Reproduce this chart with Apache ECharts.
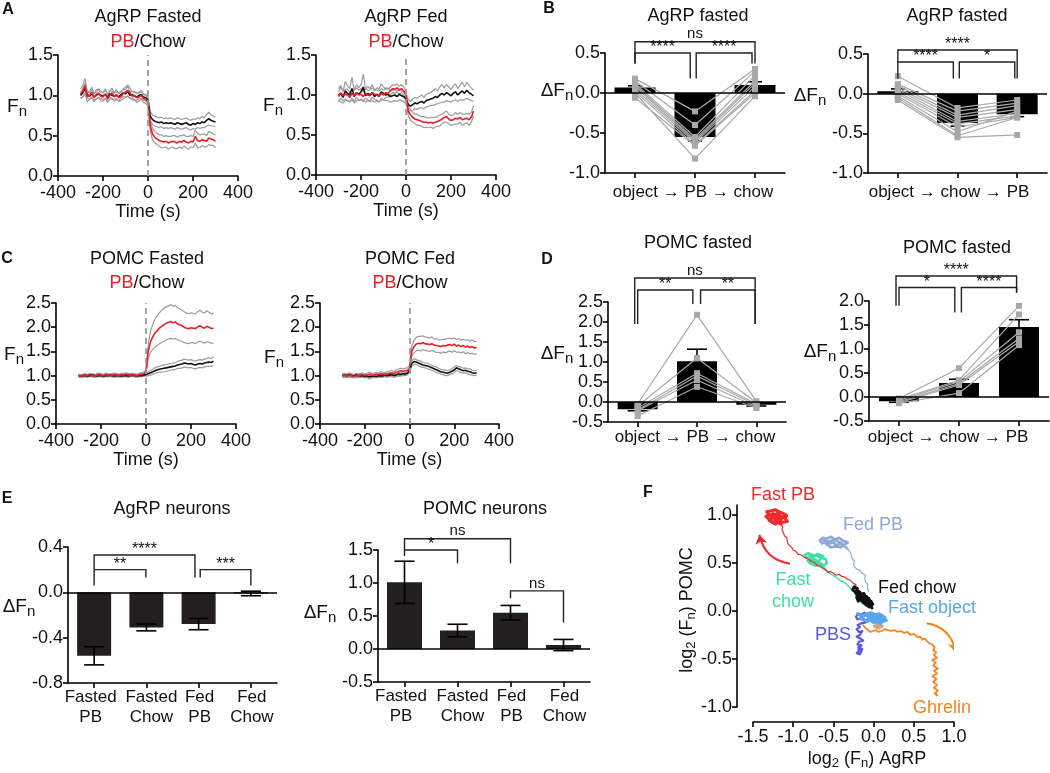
<!DOCTYPE html>
<html><head><meta charset="utf-8">
<script src="https://cdn.jsdelivr.net/npm/echarts@6/dist/echarts.min.js"></script>
<style>html,body{margin:0;padding:0;background:#fff}#c{width:1050px;height:773px}</style>
</head><body><div id="c"></div>
<script>
// ---------------- DATA ----------------
const timeSec = [-300,-290,-280,-270,-260,-250,-240,-230,-220,-210,-200,-190,-180,-170,-160,-150,-140,-130,-120,-110,-100,-90,-80,-70,-60,-50,-40,-30,-20,-10,0,10,20,30,40,50,60,70,80,90,100,110,120,130,140,150,160,170,180,190,200,210,220,230,240,250,260,270,280,290,300];
const timeTicks = [-400,-200,0,200,400];

// A: AgRP fasted
const agrpFastedPB = [1.02,1.05,1.12,0.98,1.00,1.04,0.97,1.01,1.03,0.99,0.98,1.02,0.96,1.00,1.03,0.98,1.01,0.97,0.99,1.02,1.04,1.06,1.03,0.99,1.00,0.97,0.98,1.00,0.96,0.95,0.92,0.62,0.52,0.48,0.46,0.44,0.43,0.42,0.43,0.41,0.42,0.43,0.42,0.41,0.43,0.42,0.44,0.42,0.41,0.43,0.42,0.49,0.44,0.43,0.45,0.44,0.43,0.47,0.46,0.45,0.43];
const agrpFastedPBsem = [0.06,0.07,0.09,0.06,0.05,0.06,0.05,0.06,0.05,0.06,0.05,0.06,0.05,0.05,0.06,0.05,0.06,0.05,0.05,0.06,0.06,0.07,0.06,0.05,0.05,0.06,0.05,0.05,0.05,0.05,0.05,0.06,0.07,0.07,0.07,0.07,0.08,0.07,0.07,0.08,0.07,0.07,0.08,0.07,0.07,0.08,0.07,0.07,0.08,0.07,0.07,0.08,0.09,0.08,0.07,0.08,0.07,0.08,0.08,0.07,0.08];
const agrpFastedChow = [1.00,1.03,1.08,1.01,0.99,1.02,0.98,1.00,1.02,1.00,0.99,1.01,0.98,1.02,1.00,0.99,1.00,0.98,1.01,1.03,1.02,1.05,1.00,1.01,0.99,0.98,1.00,1.01,0.98,0.97,0.94,0.74,0.70,0.68,0.67,0.66,0.67,0.65,0.66,0.65,0.66,0.65,0.64,0.66,0.65,0.64,0.65,0.66,0.64,0.63,0.65,0.64,0.66,0.65,0.67,0.66,0.69,0.71,0.69,0.68,0.67];
const agrpFastedChowSem = [0.04,0.05,0.07,0.04,0.04,0.05,0.04,0.04,0.05,0.04,0.04,0.05,0.04,0.04,0.05,0.04,0.04,0.05,0.04,0.04,0.05,0.06,0.04,0.04,0.05,0.04,0.04,0.05,0.04,0.04,0.04,0.05,0.06,0.06,0.06,0.06,0.06,0.06,0.06,0.06,0.06,0.06,0.06,0.06,0.06,0.06,0.06,0.06,0.06,0.06,0.06,0.06,0.06,0.06,0.07,0.06,0.07,0.08,0.07,0.06,0.06];
// A: AgRP fed
const agrpFedPB = [0.98,1.03,0.99,1.01,1.00,0.97,1.02,0.99,1.03,1.00,1.01,0.98,1.02,1.00,0.99,1.03,1.01,1.00,0.98,1.02,1.00,1.03,1.02,1.05,1.08,1.07,1.09,1.06,1.08,1.05,1.00,0.80,0.75,0.72,0.70,0.69,0.68,0.67,0.66,0.66,0.65,0.66,0.65,0.66,0.67,0.68,0.70,0.72,0.73,0.70,0.68,0.69,0.71,0.70,0.72,0.69,0.70,0.71,0.69,0.72,0.80];
const agrpFedPBsem = [0.06,0.07,0.06,0.06,0.07,0.06,0.06,0.07,0.06,0.06,0.07,0.06,0.06,0.06,0.07,0.06,0.06,0.06,0.07,0.06,0.06,0.06,0.05,0.05,0.05,0.05,0.05,0.05,0.05,0.05,0.05,0.06,0.07,0.06,0.06,0.07,0.06,0.06,0.07,0.06,0.06,0.06,0.07,0.06,0.06,0.07,0.06,0.06,0.07,0.06,0.06,0.06,0.07,0.06,0.06,0.07,0.06,0.06,0.07,0.06,0.06];
const agrpFedChow = [1.00,1.02,0.97,1.05,1.02,1.00,1.08,0.98,1.03,1.01,1.04,1.10,0.99,1.02,1.00,1.03,0.98,1.01,0.99,1.04,1.02,1.00,1.01,0.98,0.99,1.00,0.98,1.01,0.99,0.98,0.95,0.88,0.86,0.88,0.90,0.89,0.91,0.92,0.90,0.93,0.94,0.95,0.96,0.98,0.97,1.00,1.02,1.00,1.03,1.01,0.99,1.02,1.04,1.00,1.03,1.05,1.02,1.06,1.03,1.01,0.99];
const agrpFedChowSem = [0.08,0.10,0.07,0.12,0.09,0.08,0.14,0.08,0.10,0.08,0.09,0.16,0.08,0.09,0.08,0.10,0.07,0.08,0.08,0.10,0.08,0.07,0.08,0.07,0.07,0.07,0.06,0.07,0.06,0.06,0.06,0.06,0.06,0.07,0.07,0.07,0.07,0.08,0.07,0.08,0.08,0.08,0.09,0.10,0.08,0.10,0.11,0.09,0.10,0.09,0.08,0.09,0.10,0.08,0.09,0.11,0.08,0.10,0.09,0.08,0.07];
// C: POMC fasted
const pomcFastedPB = [1.00,0.99,1.00,1.01,1.00,1.02,1.00,0.99,1.01,1.02,1.01,1.00,1.02,1.01,1.00,1.01,1.02,1.01,1.00,1.02,1.01,1.03,1.02,1.01,1.02,1.01,1.00,1.02,1.03,1.04,1.08,1.50,1.70,1.80,1.88,1.93,1.98,2.02,2.05,2.08,2.10,2.12,2.09,2.11,2.07,2.05,2.03,2.00,1.98,1.97,1.99,1.98,1.97,2.01,2.03,2.00,1.98,2.02,2.00,1.97,1.98];
const pomcFastedPBsem = [0.03,0.02,0.03,0.03,0.02,0.03,0.03,0.02,0.03,0.03,0.03,0.02,0.03,0.03,0.02,0.03,0.03,0.03,0.02,0.03,0.03,0.03,0.02,0.03,0.03,0.02,0.03,0.03,0.03,0.04,0.05,0.14,0.22,0.26,0.29,0.31,0.32,0.33,0.34,0.34,0.34,0.35,0.34,0.34,0.33,0.33,0.32,0.32,0.31,0.31,0.31,0.30,0.31,0.31,0.32,0.31,0.31,0.32,0.31,0.30,0.31];
const pomcFastedChow = [1.00,0.99,1.00,1.00,0.99,1.00,1.01,1.00,0.99,1.00,1.00,0.99,1.00,1.00,1.01,1.00,0.99,1.00,1.00,0.99,1.00,1.00,0.99,1.00,1.01,1.00,0.99,1.00,1.00,1.01,1.02,1.04,1.06,1.08,1.10,1.12,1.13,1.14,1.15,1.16,1.17,1.18,1.19,1.20,1.22,1.23,1.24,1.26,1.25,1.24,1.25,1.23,1.22,1.24,1.25,1.24,1.26,1.27,1.28,1.27,1.30];
const pomcFastedChowSem = [0.02,0.03,0.02,0.02,0.03,0.02,0.02,0.03,0.02,0.02,0.02,0.03,0.02,0.02,0.02,0.03,0.02,0.02,0.03,0.02,0.02,0.02,0.03,0.02,0.02,0.03,0.02,0.02,0.02,0.02,0.03,0.04,0.05,0.05,0.06,0.06,0.06,0.07,0.07,0.07,0.07,0.07,0.07,0.07,0.07,0.08,0.08,0.08,0.08,0.08,0.08,0.08,0.08,0.08,0.08,0.08,0.08,0.08,0.09,0.08,0.09];
// C: POMC fed
const pomcFedPB = [1.00,1.01,0.99,1.00,1.01,0.98,0.99,1.00,1.01,1.02,1.00,1.01,1.03,1.02,1.00,1.03,1.02,1.04,1.03,1.02,1.04,1.05,1.06,1.04,1.07,1.08,1.10,1.09,1.10,1.11,1.15,1.50,1.60,1.65,1.67,1.66,1.68,1.66,1.65,1.64,1.66,1.63,1.62,1.61,1.60,1.62,1.61,1.63,1.64,1.62,1.65,1.61,1.63,1.60,1.62,1.59,1.61,1.58,1.60,1.57,1.58];
const pomcFedPBsem = [0.03,0.04,0.03,0.03,0.04,0.03,0.03,0.04,0.03,0.04,0.03,0.04,0.04,0.03,0.04,0.04,0.03,0.04,0.04,0.04,0.04,0.04,0.05,0.04,0.05,0.05,0.05,0.05,0.05,0.05,0.06,0.10,0.13,0.14,0.14,0.15,0.14,0.14,0.14,0.14,0.14,0.13,0.14,0.13,0.14,0.13,0.14,0.14,0.13,0.14,0.13,0.13,0.14,0.13,0.13,0.14,0.13,0.13,0.14,0.13,0.13];
const pomcFedChow = [1.00,1.01,1.00,1.02,1.00,0.99,1.01,1.00,0.99,1.00,0.98,0.99,0.97,0.98,0.99,0.98,0.99,1.00,0.99,1.01,1.00,1.01,1.02,1.00,1.01,1.03,1.02,1.04,1.03,1.05,1.10,1.25,1.29,1.28,1.26,1.24,1.22,1.21,1.20,1.18,1.16,1.14,1.12,1.10,1.08,1.07,1.06,1.05,1.07,1.09,1.12,1.16,1.14,1.12,1.10,1.11,1.09,1.08,1.06,1.05,1.06];
const pomcFedChowSem = [0.03,0.03,0.03,0.04,0.03,0.03,0.03,0.03,0.03,0.03,0.03,0.03,0.04,0.03,0.03,0.03,0.03,0.03,0.03,0.03,0.03,0.03,0.04,0.03,0.03,0.04,0.03,0.04,0.03,0.04,0.04,0.05,0.06,0.05,0.05,0.06,0.05,0.05,0.06,0.05,0.05,0.05,0.06,0.05,0.05,0.05,0.06,0.05,0.05,0.05,0.06,0.05,0.05,0.06,0.05,0.05,0.05,0.06,0.05,0.05,0.05];

// B: AgRP fasted, object -> PB -> chow
const bOrderA = ['object','PB','chow'];
const bMeanA = [0.07,-0.55,0.10];
const bSemA = [0.02,0.05,0.04];
const bSubjA = [[0.18,-0.23,0.30],[0.15,-0.40,0.27],[0.12,-0.55,0.22],[0.10,-0.58,0.15],[0.08,-0.60,0.12],[0.05,-0.62,0.08],[0.02,-0.65,0.03],[-0.06,-0.66,0.00],[0.00,-0.82,-0.04]];
const bBracketA = [[0,2,0.64,0.37,0.37],[0,0.92,0.50,0.37,0.18],[1.02,1.95,0.50,0.18,0.37]];
const bBracketTextA = ['ns','****','****'];
// B: AgRP fasted, object -> chow -> PB
const bOrderB = ['object','chow','PB'];
const bMeanB = [0.03,-0.37,-0.26];
const bSemB = [0.03,0.04,0.03];
const bSubjB = [[0.22,-0.18,-0.08],[0.12,-0.22,-0.12],[0.10,-0.27,-0.15],[0.07,-0.30,-0.20],[0.05,-0.35,-0.25],[0.02,-0.38,-0.28],[0.00,-0.42,-0.30],[-0.03,-0.48,-0.22],[-0.05,-0.53,-0.30],[-0.08,-0.55,-0.52]];
const bBracketB = [[0,2,0.55,0.40,0.19],[0,0.93,0.40,0.19,0.19],[1.03,1.96,0.40,0.19,0.19]];
const bBracketTextB = ['****','****','*'];
// D: POMC fasted, object -> PB -> chow
const dOrderA = ['object','PB','chow'];
const dMeanA = [-0.18,1.02,-0.07];
const dSemA = [0.04,0.30,0.03];
const dSubjA = [[-0.05,2.18,0.02],[-0.10,1.10,-0.02],[-0.15,0.72,-0.05],[-0.20,0.65,-0.08],[-0.22,0.55,-0.12],[-0.35,0.38,-0.15]];
const dBracketA = [[-0.05,1.98,3.1,1.95,1.95],[0,0.93,2.8,1.95,2.45],[1.06,1.98,2.8,2.45,1.95]];
const dBracketTextA = ['ns','**','**'];
// D: POMC fasted, object -> chow -> PB
const dOrderB = ['object','chow','PB'];
const dMeanB = [-0.09,0.29,1.46];
const dSemB = [0.02,0.08,0.15];
const dSubjB = [[-0.03,0.60,1.90],[-0.05,0.35,1.72],[-0.07,0.32,1.35],[-0.10,0.28,1.22],[-0.12,0.25,1.15],[-0.13,0.08,1.08]];
const dBracketB = [[-0.05,1.96,2.52,1.9,2.17],[0,0.93,2.28,1.9,1.76],[1.04,1.96,2.28,1.76,2.17]];
const dBracketTextB = ['****','*','****'];

// E: summary
const eCats = ['Fasted\nPB','Fasted\nChow','Fed\nPB','Fed\nChow'];
const eAgrpMean = [-0.56,-0.31,-0.28,-0.01];
const eAgrpSem = [0.08,0.03,0.05,0.02];
const eAgrpBracket = [[0,1.93,0.33,0.06,0.13],[0,0.99,0.20,0.20,0.13],[2.03,3,0.20,0.13,0.06]];
const eAgrpBracketText = ['****','**','***'];
const ePomcMean = [1.01,0.28,0.55,0.06];
const ePomcSem = [0.32,0.095,0.11,0.085];
const ePomcBracket = [[0,2,1.67,1.5,1.3],[0,1,1.5,1.41,1.3],[2,3,0.88,0.77,0.4]];
const ePomcBracketText = ['ns','*','ns'];

// F: state-space trajectories (log2 Fn AgRP, log2 Fn POMC)
const fastPBPath = [[-0.19,0.13],[-0.2,0.16],[-0.22,0.18],[-0.21,0.21],[-0.23,0.24],[-0.22,0.27],[-0.26,0.29],[-0.29,0.32],[-0.33,0.33],[-0.36,0.35],[-0.4,0.36],[-0.43,0.38],[-0.47,0.37],[-0.5,0.39],[-0.54,0.41],[-0.57,0.4],[-0.6,0.43],[-0.63,0.44],[-0.66,0.46],[-0.7,0.47],[-0.73,0.5],[-0.77,0.51],[-0.8,0.53],[-0.84,0.55],[-0.87,0.56],[-0.9,0.58],[-0.94,0.59],[-0.97,0.62],[-1.0,0.63],[-1.02,0.66],[-1.05,0.68],[-1.07,0.71],[-1.09,0.73],[-1.08,0.76],[-1.11,0.78],[-1.12,0.81],[-1.14,0.84],[-1.13,0.87],[-1.15,0.9]];
const fastPBBlob = [[-1.15,0.9],[-1.2,0.92],[-1.26,0.93],[-1.31,0.96],[-1.34,0.98],[-1.3,1.0],[-1.33,1.03],[-1.27,1.04],[-1.22,1.05],[-1.17,1.03],[-1.12,1.01],[-1.08,0.99],[-1.1,0.96],[-1.07,0.93],[-1.12,0.92],[-1.18,0.94],[-1.24,0.96],[-1.29,0.99],[-1.25,1.01],[-1.2,0.99],[-1.15,0.97],[-1.19,1.02],[-1.24,0.98],[-1.3,0.94],[-1.22,0.9],[-1.16,0.95],[-1.11,0.98],[-1.2,0.97]];
const fedPBPath = [[-0.06,0.2],[-0.08,0.24],[-0.07,0.27],[-0.1,0.3],[-0.11,0.34],[-0.1,0.37],[-0.14,0.39],[-0.17,0.42],[-0.2,0.43],[-0.23,0.45],[-0.25,0.48],[-0.24,0.52],[-0.27,0.55],[-0.28,0.59],[-0.3,0.62],[-0.33,0.65]];
const fedPBBlob = [[-0.33,0.65],[-0.37,0.68],[-0.42,0.7],[-0.46,0.68],[-0.5,0.71],[-0.55,0.7],[-0.6,0.72],[-0.64,0.7],[-0.67,0.73],[-0.63,0.76],[-0.58,0.75],[-0.53,0.77],[-0.48,0.74],[-0.43,0.76],[-0.38,0.73],[-0.32,0.71],[-0.36,0.69],[-0.41,0.66],[-0.47,0.67],[-0.53,0.66],[-0.58,0.69],[-0.62,0.73],[-0.55,0.72],[-0.5,0.74],[-0.44,0.72],[-0.39,0.7]];
const fastChowPath = [[-0.14,0.07],[-0.17,0.1],[-0.19,0.13],[-0.22,0.15],[-0.24,0.19],[-0.27,0.21],[-0.3,0.25],[-0.33,0.27],[-0.37,0.3],[-0.41,0.31],[-0.45,0.34],[-0.49,0.36],[-0.53,0.38],[-0.57,0.41],[-0.6,0.43]];
const fastChowBlob = [[-0.6,0.43],[-0.64,0.46],[-0.69,0.48],[-0.73,0.5],[-0.78,0.53],[-0.83,0.55],[-0.86,0.58],[-0.81,0.6],[-0.76,0.58],[-0.7,0.57],[-0.65,0.55],[-0.6,0.54],[-0.58,0.5],[-0.62,0.47],[-0.67,0.5],[-0.72,0.53],[-0.77,0.55],[-0.82,0.52],[-0.78,0.49],[-0.72,0.47],[-0.68,0.52],[-0.63,0.57],[-0.7,0.59],[-0.75,0.56],[-0.8,0.57]];
const fedChowBlob = [[-0.02,0.03],[-0.05,0.07],[-0.03,0.1],[-0.08,0.09],[-0.11,0.12],[-0.09,0.15],[-0.14,0.14],[-0.17,0.17],[-0.2,0.16],[-0.23,0.2],[-0.26,0.22],[-0.24,0.25],[-0.2,0.23],[-0.22,0.19],[-0.18,0.2],[-0.15,0.17],[-0.12,0.18],[-0.1,0.14],[-0.06,0.13],[-0.04,0.09],[-0.01,0.07],[-0.05,0.04],[-0.09,0.06],[-0.13,0.09],[-0.16,0.12],[-0.19,0.1],[-0.21,0.14],[-0.17,0.13],[-0.13,0.11],[-0.08,0.11],[-0.12,0.16],[-0.18,0.14],[-0.06,0.05],[-0.02,0.08]];
const fastObjectBlob = [[-0.2,-0.03],[-0.16,-0.05],[-0.11,-0.04],[-0.07,-0.06],[-0.03,-0.04],[0.01,-0.06],[0.05,-0.05],[0.09,-0.07],[0.13,-0.08],[0.16,-0.1],[0.12,-0.11],[0.08,-0.13],[0.04,-0.11],[0.0,-0.12],[-0.04,-0.1],[-0.08,-0.11],[-0.12,-0.09],[-0.17,-0.08],[-0.13,-0.06],[-0.08,-0.03],[-0.03,-0.02],[0.02,-0.04],[0.07,-0.03],[0.11,-0.05],[0.14,-0.07],[0.09,-0.09],[0.04,-0.08],[-0.01,-0.09],[0.05,-0.1],[0.1,-0.1],[0.02,-0.07],[-0.05,-0.08]];
const pbsTrace = [[-0.11,-0.02],[-0.15,-0.04],[-0.19,-0.03],[-0.22,-0.06],[-0.2,-0.09],[-0.16,-0.08],[-0.12,-0.1],[-0.08,-0.09],[-0.1,-0.12],[-0.15,-0.13],[-0.2,-0.15],[-0.17,-0.17],[-0.21,-0.19],[-0.18,-0.22],[-0.14,-0.21],[-0.17,-0.25],[-0.21,-0.27],[-0.16,-0.29],[-0.13,-0.31],[-0.18,-0.32],[-0.2,-0.35],[-0.15,-0.36],[-0.19,-0.38],[-0.14,-0.4],[-0.18,-0.42],[-0.21,-0.44],[-0.17,-0.45],[-0.15,-0.42],[-0.19,-0.4]];
const ghrelinTrace = [[-0.13,-0.15],[-0.1,-0.18],[-0.07,-0.2],[-0.04,-0.22],[-0.01,-0.21],[0.03,-0.2],[0.06,-0.22],[0.1,-0.21],[0.14,-0.19],[0.18,-0.2],[0.22,-0.21],[0.26,-0.2],[0.3,-0.22],[0.34,-0.21],[0.38,-0.23],[0.42,-0.22],[0.46,-0.25],[0.5,-0.24],[0.54,-0.27],[0.58,-0.27],[0.61,-0.3],[0.64,-0.29],[0.67,-0.32],[0.7,-0.34],[0.73,-0.35],[0.76,-0.38],[0.74,-0.41],[0.78,-0.43],[0.75,-0.46],[0.79,-0.49],[0.73,-0.51],[0.77,-0.54],[0.74,-0.57],[0.8,-0.6],[0.75,-0.62],[0.79,-0.65],[0.73,-0.68],[0.78,-0.71],[0.74,-0.74],[0.79,-0.77],[0.75,-0.8],[0.8,-0.83],[0.76,-0.86],[0.79,-0.88],[0.77,-0.85]];
const tanTrace = [[0.0,-0.12],[0.06,-0.14],[0.11,-0.16],[0.06,-0.18],[0.01,-0.16],[0.07,-0.15]];
const redArrow = [[-1.04,0.49],[-1.42,0.79]];
const orangeArrow = [[0.66,-0.13],[1.02,-0.43]];
const fTicks = [-1.0,-0.5,0.0,0.5,1.0];

// ---------------- BUILD ----------------
const FONT = "'Liberation Sans', Arial, Helvetica, sans-serif";
const RED = '#ee1d24', GRAY = '#9c9c9c', SUBJ = '#a8a8a8', INK = '#111';
const LS = 18; // label size
const grids = [], xAxes = [], yAxes = [], series = [], graphics = [];

function axLine(){ return {show:true, onZero:false, lineStyle:{color:'#000', width:1.6}}; }
function axTick(extra){ return Object.assign({show:true, length:5, lineStyle:{color:'#000', width:1.6}}, extra||{}); }
function axLab(extra){ return Object.assign({show:true, color:INK, fontSize:LS, fontFamily:FONT, margin:5}, extra||{}); }
function addGrid(l,t,w,h){ grids.push({left:l, top:t, width:w, height:h}); return grids.length-1; }
const fmt1 = v => v.toFixed(1);

function txt(x, y, text, o){
  o = o || {};
  const st = {text:text, fill:o.color||INK, fontSize:o.size||LS, fontFamily:FONT, fontWeight:o.bold?'bold':'normal',
    textAlign:o.align||'center', textVerticalAlign:'middle', align:o.align||'center', verticalAlign:'middle', x:0, y:0};
  if (o.rich) st.rich = o.rich;
  graphics.push({type:'text', x:x, y:y, rotation:o.rot||0, silent:true, style:st, z:10});
}
const tok = (size, color, padTop) => ({fontSize:size, fontFamily:FONT, fill:color||INK, color:color||INK, padding:[padTop||0,0,0,0]});
const subRich = {a:tok(19), s:tok(15, INK, 10)};

function timePanel(box, yMax, red, redSem, blk, blkSem){
  const gi = addGrid(box[0],box[1],box[2],box[3]);
  xAxes.push({gridIndex:gi, type:'value', min:timeTicks[0], max:timeTicks[timeTicks.length-1], interval:timeTicks[1]-timeTicks[0],
    axisLine:axLine(), axisTick:axTick(), axisLabel:axLab({margin:8}), splitLine:{show:false},
    name:'Time (s)', nameLocation:'middle', nameGap:25, nameTextStyle:{fontSize:LS, fontFamily:FONT, color:INK}});
  yAxes.push({gridIndex:gi, type:'value', min:0, max:yMax, interval:0.5, axisLine:axLine(), axisTick:axTick(),
    axisLabel:axLab({formatter:fmt1}), splitLine:{show:false}});
  const xi = xAxes.length-1, yi = yAxes.length-1;
  const pts = a => timeSec.map((t,i)=>[t, a[i]]);
  const off = (m,s,k) => timeSec.map((t,i)=>[t, +(m[i]+k*s[i]).toFixed(3)]);
  const base = {type:'line', xAxisIndex:xi, yAxisIndex:yi, showSymbol:false, symbol:'none', silent:true, clip:false};
  series.push(Object.assign({}, base, {data:off(blk,blkSem,1), lineStyle:{color:GRAY, width:1.2}, z:2,
    markLine:{silent:true, symbol:'none', label:{show:false}, lineStyle:{color:'#9a9a9a', type:[6,4], width:1.8}, data:[{xAxis:0}]}}));
  series.push(Object.assign({}, base, {data:off(blk,blkSem,-1), lineStyle:{color:GRAY, width:1.2}, z:2}));
  series.push(Object.assign({}, base, {data:off(red,redSem,1), lineStyle:{color:GRAY, width:1.2}, z:2}));
  series.push(Object.assign({}, base, {data:off(red,redSem,-1), lineStyle:{color:GRAY, width:1.2}, z:2}));
  series.push(Object.assign({}, base, {data:pts(blk), lineStyle:{color:INK, width:1.6}, z:3}));
  series.push(Object.assign({}, base, {data:pts(red), lineStyle:{color:RED, width:1.6}, z:4}));
}

const catTok = p => ({fontSize:17, fontFamily:FONT, color:INK, lineHeight:20, padding:p});
const eCatRich = {c0:catTok([0,7,0,0]), c1:catTok([0,0,0,10]), c2:catTok([0,0,0,2]), c3:catTok([0,0,0,2])};
const eCatFmt = (v, i) => v.split('\n').map(s => '{c' + i + '|' + s + '}').join('\n');

function barPanel(o){
  const gi = addGrid(o.box[0],o.box[1],o.box[2],o.box[3]);
  xAxes.push({gridIndex:gi, type:'category', data:o.cats, axisLine:axLine(), axisTick:axTick({alignWithLabel:true}),
    axisLabel: o.showCats ? axLab({interval:0, fontSize:17, lineHeight:20, margin:4, formatter:eCatFmt, rich:eCatRich}) : {show:false},
    splitLine:{show:false}});
  yAxes.push({gridIndex:gi, type:'value', min:o.min, max:o.max, interval:o.interval, axisLine:axLine(), axisTick:axTick(),
    axisLabel:axLab({formatter:fmt1}), splitLine:{show:false}});
  const xi = xAxes.length-1, yi = yAxes.length-1;
  series.push({type:'bar', xAxisIndex:xi, yAxisIndex:yi, data:o.means, barWidth:o.barWidth, silent:true, z:2,
    itemStyle:{color:o.barColor},
    markLine:{silent:true, symbol:'none', label:{show:false}, lineStyle:{color:'#000', type:'solid', width:1.6}, data:[{yAxis:0}]}});
  // error bars
  series.push({type:'custom', xAxisIndex:xi, yAxisIndex:yi, silent:true, z:3, clip:false,
    data:o.means.map((m,i)=>[i,m]),
    renderItem:(p, api)=>{
      const i = p.dataIndex, m = o.means[i], s = o.sems[i];
      const cw = o.capW/2, st = {stroke:'#000', lineWidth:1.6};
      let a, b, caps;
      if (o.twoSided){ a = api.coord([i,m-s]); b = api.coord([i,m+s]); caps = [a,b]; }
      else { a = api.coord([i,m]); b = api.coord([i, m + (m>=0 ? s : -s)]); caps = [b]; }
      const ch = [{type:'line', shape:{x1:a[0],y1:a[1],x2:b[0],y2:b[1]}, style:st}];
      caps.forEach(c=>ch.push({type:'line', shape:{x1:c[0]-cw,y1:c[1],x2:c[0]+cw,y2:c[1]}, style:st}));
      return {type:'group', children:ch};
    }});
  // individual subjects
  (o.subjects||[]).forEach(sj=>{
    series.push({type:'line', xAxisIndex:xi, yAxisIndex:yi, data:sj, symbol:'rect', symbolSize:6, showSymbol:true, silent:true, z:4,
      itemStyle:{color:SUBJ}, lineStyle:{color:SUBJ, width:1.2}});
  });
  // significance brackets
  series.push({type:'custom', xAxisIndex:xi, yAxisIndex:yi, silent:true, z:6, clip:false,
    data:o.brackets.map(b=>[0,b[2]]),
    renderItem:(p, api)=>{
      const b = o.brackets[p.dataIndex];
      const bw = api.size([1,0])[0];
      const x0 = api.coord([0,0])[0];
      const X = v => x0 + v*bw, Y = v => api.coord([0,v])[1];
      const x1 = X(b[0]), x2 = X(b[1]), yt = Y(b[2]), yl = Y(b[3]), yr = Y(b[4]);
      const lab = o.bracketText[p.dataIndex];
      const isNs = lab === 'ns';
      return {type:'group', children:[
        {type:'polyline', shape:{points:[[x1,yl],[x1,yt],[x2,yt],[x2,yr]]}, style:{stroke:'#222', lineWidth:1.4, fill:null}},
        {type:'text', style:{text:lab, x:(x1+x2)/2, y: isNs ? yt : yt+3, textAlign:'center', textVerticalAlign:'bottom', align:'center', verticalAlign:'bottom',
          fontSize: isNs ? 15 : 16, fontFamily:FONT, fill:INK}}
      ]};
    }});
  if (!o.showCats) txt(o.catLabelPos[0], o.catLabelPos[1], o.cats.join(' \u2192 '), {size:17});
}

// A row
timePanel([58,55,180,121], 1.5, agrpFastedPB, agrpFastedPBsem, agrpFastedChow, agrpFastedChowSem);
timePanel([316,55,180,120], 1.5, agrpFedPB, agrpFedPBsem, agrpFedChow, agrpFedChowSem);
// C row
timePanel([56,303,180,121], 2.5, pomcFastedPB, pomcFastedPBsem, pomcFastedChow, pomcFastedChowSem);
timePanel([320,303,179,121], 2.5, pomcFedPB, pomcFedPBsem, pomcFedChow, pomcFedChowSem);

// B row
barPanel({box:[605,53,180,120], cats:bOrderA, min:-1, max:0.5, interval:0.5, means:bMeanA, sems:bSemA, twoSided:false,
  barColor:'#000', barWidth:41, capW:14, subjects:bSubjA, brackets:bBracketA, bracketText:bBracketTextA, showCats:false, catLabelPos:[693,192]});
barPanel({box:[868,54,179,119], cats:bOrderB, min:-1, max:0.5, interval:0.5, means:bMeanB, sems:bSemB, twoSided:false,
  barColor:'#000', barWidth:41, capW:14, subjects:bSubjB, brackets:bBracketB, bracketText:bBracketTextB, showCats:false, catLabelPos:[949,192]});
// D row
barPanel({box:[608,302,178,120], cats:dOrderA, min:-0.5, max:2.5, interval:0.5, means:dMeanA, sems:dSemA, twoSided:false,
  barColor:'#000', barWidth:40, capW:20, subjects:dSubjA, brackets:dBracketA, bracketText:dBracketTextA, showCats:false, catLabelPos:[695,437]});
barPanel({box:[869,301,180,120], cats:dOrderB, min:-0.5, max:2.0, interval:0.5, means:dMeanB, sems:dSemB, twoSided:false,
  barColor:'#000', barWidth:40, capW:20, subjects:dSubjB, brackets:dBracketB, bracketText:dBracketTextB, showCats:false, catLabelPos:[948,437]});
// E row
barPanel({box:[68,547,209,136], cats:eCats, min:-0.8, max:0.4, interval:0.4, means:eAgrpMean, sems:eAgrpSem, twoSided:true,
  barColor:'#231f20', barWidth:34, capW:20, subjects:[], brackets:eAgrpBracket, bracketText:eAgrpBracketText, showCats:true});
barPanel({box:[378,550,212,132], cats:eCats, min:-0.5, max:1.5, interval:0.5, means:ePomcMean, sems:ePomcSem, twoSided:true,
  barColor:'#231f20', barWidth:35, capW:20, subjects:[], brackets:ePomcBracket, bracketText:ePomcBracketText, showCats:true});

// F panel
const gF = addGrid(753,505,201,202);
xAxes.push({gridIndex:gF, type:'value', min:-1.5, max:1.0, interval:0.5, offset:15, axisLine:axLine(), axisTick:axTick(),
  axisLabel:axLab({formatter:fmt1, margin:6}), splitLine:{show:false}});
yAxes.push({gridIndex:gF, type:'value', min:-1.0, max:1.1, interval:0.5, offset:16, axisLine:axLine(),
  axisTick:axTick({customValues:fTicks}), axisLabel:axLab({formatter:fmt1, customValues:fTicks}), splitLine:{show:false}});
const fxi = xAxes.length-1, fyi = yAxes.length-1;
function trace(d, color, w, z){
  series.push({type:'line', xAxisIndex:fxi, yAxisIndex:fyi, data:d, showSymbol:false, symbol:'none', silent:true, clip:false, z:z||3,
    lineStyle:{color:color, width:w, join:'round', cap:'round'}});
}
trace(ghrelinTrace, '#f5831f', 1.8);
trace(tanTrace, '#c8a98c', 3);
trace(pbsTrace, '#5a55e3', 2.2);
trace(fedPBPath, '#8eaad6', 1.2);
trace(fedPBBlob, '#8eaad6', 2.6);
trace(fastChowPath, '#3ee0a3', 1.4);
trace(fastChowBlob, '#3ee0a3', 2.6);
trace(fastPBPath, '#ef2a2a', 1.2);
trace(fastPBBlob, '#ef2a2a', 3);
trace(fedChowBlob, '#111111', 3, 4);
trace(fastObjectBlob, '#58a6ee', 3, 5);
series.push({type:'lines', coordinateSystem:'cartesian2d', xAxisIndex:fxi, yAxisIndex:fyi, silent:true, z:6,
  symbol:['none','arrow'], symbolSize:9,
  data:[{coords:redArrow, lineStyle:{color:'#ef2a2a', width:2, opacity:1, curveness:0.35}},
        {coords:orangeArrow, lineStyle:{color:'#f5831f', width:2, opacity:1, curveness:0.35}}]});

// ---------------- TEXT ----------------
// panel letters
txt(8,10,'A',{bold:true,size:16}); txt(549,9,'B',{bold:true,size:16});
txt(7,259,'C',{bold:true,size:16}); txt(547,260,'D',{bold:true,size:16});
txt(7,499,'E',{bold:true,size:16}); txt(648,493,'F',{bold:true,size:16});
// titles
const pbChow = '{r|PB}{k|/Chow}';
const pbRich = {r:tok(18, RED), k:tok(18)};
txt(148,17,'AgRP Fasted'); txt(148,42,pbChow,{rich:pbRich});
txt(406,17,'AgRP Fed'); txt(406,42,pbChow,{rich:pbRich});
txt(147,259,'POMC Fasted'); txt(147,283,pbChow,{rich:pbRich});
txt(410,259,'POMC Fed'); txt(410,283,pbChow,{rich:pbRich});
txt(698,16,'AgRP fasted'); txt(957,16,'AgRP fasted');
txt(698,243,'POMC fasted'); txt(957,248,'POMC fasted');
txt(172,509,'AgRP neurons'); txt(485,509,'POMC neurons');
// y-axis names
const Fn = '{a|F}{s|n}', dFn = '{a|\u0394F}{s|n}';
txt(17,107,Fn,{rich:subRich}); txt(273,106,Fn,{rich:subRich});
txt(14,355,Fn,{rich:subRich}); txt(274,358,Fn,{rich:subRich});
txt(557,91,dFn,{rich:subRich}); txt(810,96,dFn,{rich:subRich});
txt(557,354,dFn,{rich:subRich}); txt(820,352,dFn,{rich:subRich});
txt(19,607,dFn,{rich:subRich}); txt(320,613,dFn,{rich:subRich});
// F axis names
const logRich = {a:tok(18), s:tok(13, INK, 9)};
txt(687,610,'{a|log}{s|2}{a| (F}{s|n}{a|) POMC}',{rich:logRich, rot:Math.PI/2});
txt(867,759,'{a|log}{s|2}{a| (F}{s|n}{a|) AgRP}',{rich:logRich});
// F labels
txt(783,495,'Fast PB',{color:'#ef2a2a'});
txt(873,525,'Fed PB',{color:'#8eaad6'});
txt(793,580,'Fast',{color:'#3ee0a3'}); txt(793,602,'chow',{color:'#3ee0a3'});
txt(917,588,'Fed chow',{color:'#111'});
txt(932,608,'Fast object',{color:'#58a6ee'});
txt(833,635,'PBS',{color:'#5a55e3'});
txt(942,708,'Ghrelin',{color:'#f5831f'});

const chart = echarts.init(document.getElementById('c'), null, {renderer:'canvas'});
chart.setOption({
  animation:false,
  backgroundColor:'#fff',
  textStyle:{fontFamily:FONT},
  grid:grids, xAxis:xAxes, yAxis:yAxes, series:series,
  graphic:{elements:graphics}
});
</script></body></html>
